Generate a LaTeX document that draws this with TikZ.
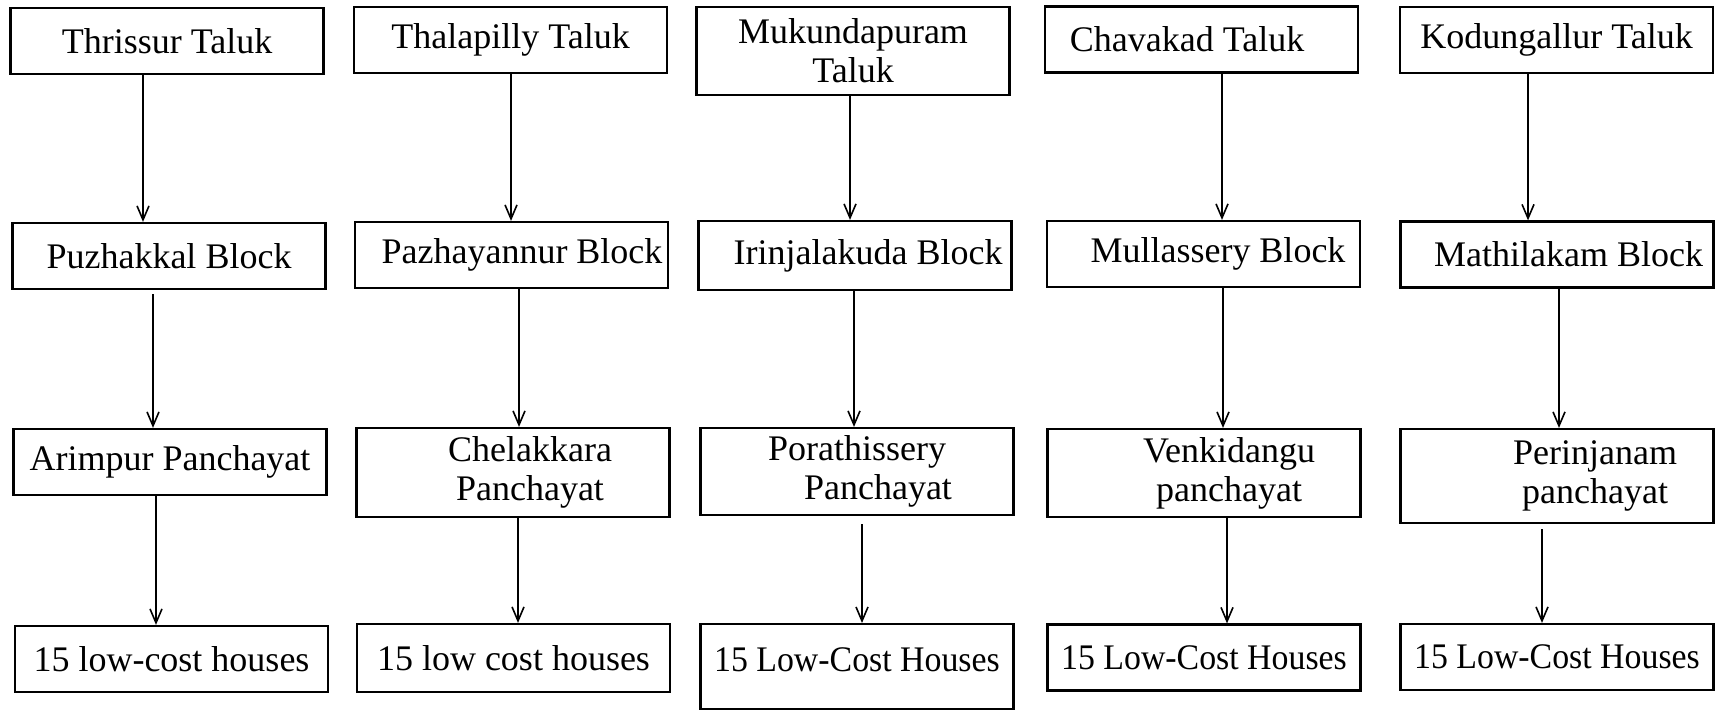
\documentclass[tikz,border=0pt]{standalone}
\usepackage{fontspec}
\setmainfont{Liberation Serif}
\usetikzlibrary{arrows.meta}

\begin{document}
\begin{tikzpicture}[x=0.5pt, y=-0.5pt,
    box/.style = {draw, line width=1.1pt, rectangle, align=center, inner sep=0pt,
                  minimum width=156.5pt, minimum height=33pt,
                  font=\fontsize{18}{19.5}\selectfont},
    narrow/.style = {font=\fontsize{18}{19.5}\selectfont\addfontfeature{FakeStretch=0.94}},
    down/.style = {line width=0.8pt, -{Straight Barb[length=7pt,width=6pt]}}]
      \useasboundingbox (0,0) rectangle (1716,710);

      % taluks
      \node[box] (t1) at (167,41) {Thrissur Taluk};
      \node[box] (t2) at (510.5,40) {Thalapilly Taluk};
      \node[box, minimum height=44pt] (t3) at (853,51) {Mukundapuram\\Taluk};
      \node[box] (t4) at (1201.5,39.5) {Chavakad Taluk\hspace*{14.5pt}};
      \node[box] (t5) at (1556.5,40) {Kodungallur Taluk};

      % blocks
      \node[box] (b1) at (169,256) {Puzhakkal Block};
      \node[box] (b2) at (511.5,255) {\hspace*{10.5pt}Pazhayannur Block};
      \node[box, minimum height=34.5pt] (b3) at (855,255.5) {\hspace*{13pt}Irinjalakuda Block};
      \node[box] (b4) at (1203.5,254) {\hspace*{14.5pt}Mullassery Block};
      \node[box] (b5) at (1557,254.5) {\hspace*{11.5pt}Mathilakam Block};

      % panchayats
      \node[box] (p1) at (170,462) {Arimpur Panchayat};
      \node[box, minimum height=44.5pt] (p2) at (513,472.5) {\hspace*{17pt}Chelakkara\\\hspace*{17pt}Panchayat};
      \node[box, minimum height=43.5pt] (p3) at (857,471.5) {Porathissery\\\hspace*{21pt}Panchayat};
      \node[box, minimum height=44pt] (p4) at (1204,473) {\hspace*{25pt}Venkidangu\\\hspace*{25pt}panchayat};
      \node[box, minimum height=47pt] (p5) at (1557,476) {\hspace*{38pt}Perinjanam\\\hspace*{38pt}panchayat};

      % houses
      \node[box] (h1) at (171.5,659) {15 low-cost houses};
      \node[box, minimum height=34pt] (h2) at (513.5,658) {15 low cost houses};
      \node[box, narrow, anchor=north, minimum height=0pt, text height=23.5pt, text depth=19pt] (h3) at (857,623) {15 Low-Cost Houses};
      \node[box, narrow] (h4) at (1204,657.5) {15 Low-Cost Houses};
      \node[box, narrow] (h5) at (1557,657) {15 Low-Cost Houses};

      \draw[down] (t1.south -| 143,0) -- (b1.north -| 143,0);
      \draw[down] (t2.south -| 511,0) -- (b2.north -| 511,0);
      \draw[down] (t3.south -| 850,0) -- (b3.north -| 850,0);
      \draw[down] (t4.south -| 1222,0) -- (b4.north -| 1222,0);
      \draw[down] (t5.south -| 1528,0) -- (b5.north -| 1528,0);

      \draw[down, shorten <=2pt] (b1.south -| 153,0) -- (p1.north -| 153,0);
      \draw[down] (b2.south -| 519,0) -- (p2.north -| 519,0);
      \draw[down] (b3.south -| 854,0) -- (p3.north -| 854,0);
      \draw[down] (b4.south -| 1223,0) -- (p4.north -| 1223,0);
      \draw[down] (b5.south -| 1559,0) -- (p5.north -| 1559,0);

      \draw[down] (p1.south -| 156,0) -- (h1.north -| 156,0);
      \draw[down] (p2.south -| 518,0) -- (h2.north -| 518,0);
      \draw[down, shorten <=4pt] (p3.south -| 862,0) -- (h3.north -| 862,0);
      \draw[down] (p4.south -| 1227,0) -- (h4.north -| 1227,0);
      \draw[down, shorten <=2.5pt] (p5.south -| 1542,0) -- (h5.north -| 1542,0);
    \end{tikzpicture}
\end{document}
